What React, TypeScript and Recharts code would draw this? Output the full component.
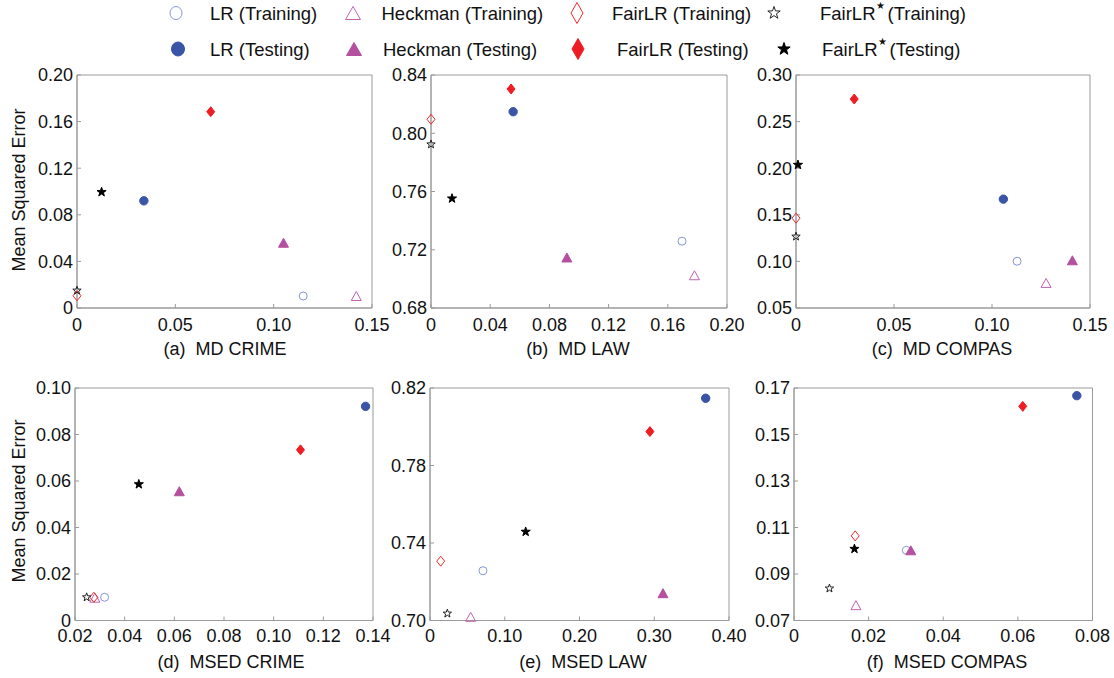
import React from 'react';
import { ScatterChart, Scatter, XAxis, YAxis, ReferenceArea } from 'recharts';

const FONT = '"Liberation Sans", Arial, Helvetica, sans-serif';
const AX = '#9a9a9a';

// Series order (same in every panel)
const seriesNames = [
  'LR (Training)', 'Heckman (Training)', 'FairLR (Training)', 'FairLR* (Training)',
  'LR (Testing)', 'Heckman (Testing)', 'FairLR (Testing)', 'FairLR* (Testing)',
];

// (a) MD CRIME
const mdCrimeX = [0.115, 0.142, 0.0, 0.0, 0.034, 0.105, 0.068, 0.0125];
const mdCrimeY = [0.0103, 0.0103, 0.0105, 0.015, 0.092, 0.056, 0.1685, 0.0995];
// (b) MD LAW
const mdLawX = [0.1696, 0.178, 0.0, 0.0, 0.0555, 0.0918, 0.0541, 0.0142];
const mdLawY = [0.7259, 0.7025, 0.8096, 0.7924, 0.8148, 0.7147, 0.8304, 0.7552];
// (c) MD COMPAS
const mdCompasX = [0.1128, 0.1276, 0.0, 0.0, 0.1058, 0.141, 0.0297, 0.001];
const mdCompasY = [0.1002, 0.0769, 0.1464, 0.1267, 0.1668, 0.1012, 0.2742, 0.2036];
// (d) MSED CRIME
const msedCrimeX = [0.0319, 0.028, 0.0276, 0.0247, 0.137, 0.062, 0.1108, 0.0457];
const msedCrimeY = [0.01, 0.0098, 0.01, 0.01, 0.0921, 0.0556, 0.0734, 0.0586];
// (e) MSED LAW
const msedLawX = [0.0709, 0.0544, 0.0143, 0.0232, 0.3688, 0.3117, 0.2942, 0.128];
const msedLawY = [0.7257, 0.7019, 0.7306, 0.7036, 0.8147, 0.7141, 0.7975, 0.7458];
// (f) MSED COMPAS
const msedCompasX = [0.0301, 0.0166, 0.0164, 0.0095, 0.0758, 0.0313, 0.0613, 0.0162];
const msedCompasY = [0.1002, 0.0766, 0.1064, 0.0838, 0.1667, 0.1002, 0.1621, 0.1008];

// Ticks
const xTicksA = [0, 0.05, 0.1, 0.15];
const yTicksA = [0, 0.04, 0.08, 0.12, 0.16, 0.2];
const xTicksB = [0, 0.04, 0.08, 0.12, 0.16, 0.2];
const yTicksB = [0.68, 0.72, 0.76, 0.8, 0.84];
const xTicksC = [0, 0.05, 0.1, 0.15];
const yTicksC = [0.05, 0.1, 0.15, 0.2, 0.25, 0.3];
const xTicksD = [0.02, 0.04, 0.06, 0.08, 0.1, 0.12, 0.14];
const yTicksD = [0, 0.02, 0.04, 0.06, 0.08, 0.1];
const xTicksE = [0, 0.1, 0.2, 0.3, 0.4];
const yTicksE = [0.7, 0.74, 0.78, 0.82];
const xTicksF = [0, 0.02, 0.04, 0.06, 0.08];
const yTicksF = [0.07, 0.09, 0.11, 0.13, 0.15, 0.17];

type Kind = 'circle' | 'triangle' | 'diamond' | 'star';
const seriesKind: Kind[] = ['circle', 'triangle', 'diamond', 'star', 'circle', 'triangle', 'diamond', 'star'];
const seriesFilled = [false, false, false, false, true, true, true, true];
const seriesColor = ['#8796d4', '#c263b1', '#f02a2a', '#222222', '#3a55a6', '#b4509f', '#ee1d23', '#000000'];

const fmt = (v: number) => (v === 0 ? '0' : v.toFixed(2));

function starPath(cx: number, cy: number, R: number, r: number) {
  let d = '';
  for (let i = 0; i < 10; i++) {
    const a = -Math.PI / 2 + (i * Math.PI) / 5;
    const rad = i % 2 === 0 ? R : r;
    d += (i === 0 ? 'M' : 'L') + (cx + rad * Math.cos(a)).toFixed(2) + ',' + (cy + rad * Math.sin(a)).toFixed(2);
  }
  return d + 'Z';
}

function Marker({ kind, filled, color, cx, cy, s }: { kind: Kind; filled: boolean; color: string; cx: number; cy: number; s: number }) {
  const fill = filled ? color : 'none';
  const common = { fill, stroke: color, strokeWidth: 1 };
  if (cx == null || cy == null) return null;
  switch (kind) {
    case 'circle':
      return <circle cx={cx} cy={cy} r={(filled ? 4.2 : 4) * s} {...common} />;
    case 'triangle': {
      const hw = 5 * s, hh = 4.5 * s;
      return <polygon points={`${cx},${cy - hh} ${cx - hw},${cy + hh} ${cx + hw},${cy + hh}`} {...common} />;
    }
    case 'diamond': {
      const hw = 4 * s, hh = 5 * s;
      return <polygon points={`${cx},${cy - hh} ${cx + hw},${cy} ${cx},${cy + hh} ${cx - hw},${cy}`} {...common} />;
    }
    case 'star': {
      const R = (filled ? 4.8 : 4.4) * s;
      return <path d={starPath(cx, cy, R, R * 0.4)} {...common} />;
    }
  }
  return null;
}

interface PanelProps {
  left: number; top: number; w: number; h: number;
  xs: number[]; ys: number[];
  xDomain: [number, number]; yDomain: [number, number];
  xTicks: number[]; yTicks: number[];
  xGap: number;
}

function Panel({ left, top, w, h, xs, ys, xDomain, yDomain, xTicks, yTicks, xGap }: PanelProps) {
  const ML = 60, MR = 30, MT = 12, MB = 36;
  const tickStyle = { fontSize: 18, fill: '#111', fontFamily: FONT };
  return (
    <div style={{ position: 'absolute', left: left - ML, top: top - MT }}>
      <ScatterChart width={w + ML + MR} height={h + MT + MB} margin={{ top: MT, right: MR, bottom: 0, left: 0 }}>
        <XAxis
          type="number" dataKey="x" domain={xDomain} ticks={xTicks} interval={0} height={MB}
          tickSize={-4} tickMargin={xGap} tickFormatter={fmt}
          axisLine={{ stroke: AX }} tickLine={{ stroke: AX }} tick={tickStyle}
        />
        <YAxis
          type="number" dataKey="y" domain={yDomain} ticks={yTicks} interval={0} width={ML}
          tickSize={-4} tickMargin={8} tickFormatter={fmt}
          axisLine={{ stroke: AX }} tickLine={{ stroke: AX }} tick={tickStyle}
        />
        <ReferenceArea x1={xDomain[0]} x2={xDomain[1]} y1={yDomain[0]} y2={yDomain[1]}
          fill="none" stroke={AX} strokeWidth={1} ifOverflow="visible" />
        {seriesNames.map((name, i) => (
          <Scatter
            key={name}
            name={name}
            data={[{ x: xs[i], y: ys[i] }]}
            isAnimationActive={false}
            shape={(p: any) => (
              <Marker kind={seriesKind[i]} filled={seriesFilled[i]} color={seriesColor[i]} cx={p.cx} cy={p.cy} s={1} />
            )}
          />
        ))}
      </ScatterChart>
    </div>
  );
}

const legendRow1 = [
  { i: 0, mx: 176, tx: 210 },
  { i: 1, mx: 353, tx: 381.5 },
  { i: 2, mx: 577, tx: 612 },
  { i: 3, mx: 774, tx: 820 },
];
const legendRow2 = [
  { i: 4, mx: 178, tx: 210 },
  { i: 5, mx: 354, tx: 383 },
  { i: 6, mx: 578, tx: 617 },
  { i: 7, mx: 784, tx: 822 },
];

function LegendItem({ i, mx, tx, y }: { i: number; mx: number; tx: number; y: number }) {
  const kind = seriesKind[i];
  const filled = seriesFilled[i];
  const color = seriesColor[i];
  let marker: React.ReactNode;
  if (kind === 'diamond') {
    const hw = 6, hh = 10.5;
    marker = <polygon points={`${mx},${y - hh} ${mx + hw},${y} ${mx},${y + hh} ${mx - hw},${y}`}
      fill={filled ? color : 'none'} stroke={color} strokeWidth={1} />;
  } else if (kind === 'triangle') {
    const hw = 7.5, hh = 6.5;
    marker = <polygon points={`${mx},${y - hh} ${mx - hw},${y + hh} ${mx + hw},${y + hh}`}
      fill={filled ? color : 'none'} stroke={color} strokeWidth={1} />;
  } else if (kind === 'circle') {
    marker = <ellipse cx={mx} cy={y} rx={filled ? 6.5 : 6} ry={filled ? 7 : 6.5} fill={filled ? color : 'none'} stroke={color} strokeWidth={1} />;
  } else {
    marker = <path d={starPath(mx, y, 6.5, 2.6)} fill={filled ? color : 'none'} stroke={color} strokeWidth={1} />;
  }
  const name = seriesNames[i];
  const isStar = name.startsWith('FairLR*');
  const rest = isStar ? name.replace('FairLR* ', '') : name;
  return (
    <g>
      {marker}
      <text x={tx} y={y} dominantBaseline="central" fontSize={18.5} fontFamily={FONT} fill="#111">
        {isStar ? (
          <>
            <tspan>FairLR</tspan>
            <tspan fontSize={10} dy={-8}>★</tspan>
            <tspan dy={8} dx={3}>{rest}</tspan>
          </>
        ) : (
          name
        )}
      </text>
    </g>
  );
}

const captions = [
  { text: '(a)  MD CRIME', x: 225, y: 349 },
  { text: '(b)  MD LAW', x: 578, y: 349 },
  { text: '(c)  MD COMPAS', x: 942, y: 349 },
  { text: '(d)  MSED CRIME', x: 231, y: 662 },
  { text: '(e)  MSED LAW', x: 583, y: 662 },
  { text: '(f)  MSED COMPAS', x: 947, y: 662 },
];

export default function App() {
  return (
    <div style={{ position: 'absolute', left: 0, top: 0, width: 1114, height: 678, background: '#fff', overflow: 'hidden' }}>
      <Panel left={77} top={75} w={295} h={233} xs={mdCrimeX} ys={mdCrimeY}
        xDomain={[0, 0.15]} yDomain={[0, 0.2]} xTicks={xTicksA} yTicks={yTicksA} xGap={14.6} />
      <Panel left={431} top={75} w={296} h={233} xs={mdLawX} ys={mdLawY}
        xDomain={[0, 0.2]} yDomain={[0.68, 0.84]} xTicks={xTicksB} yTicks={yTicksB} xGap={14.6} />
      <Panel left={796} top={75} w={294} h={233} xs={mdCompasX} ys={mdCompasY}
        xDomain={[0, 0.15]} yDomain={[0.05, 0.3]} xTicks={xTicksC} yTicks={yTicksC} xGap={14.6} />
      <Panel left={75} top={387.5} w={298} h={232.5} xs={msedCrimeX} ys={msedCrimeY}
        xDomain={[0.02, 0.14]} yDomain={[0, 0.1]} xTicks={xTicksD} yTicks={yTicksD} xGap={12.6} />
      <Panel left={429.5} top={387.5} w={299} h={232.5} xs={msedLawX} ys={msedLawY}
        xDomain={[0, 0.4]} yDomain={[0.7, 0.82]} xTicks={xTicksE} yTicks={yTicksE} xGap={12.6} />
      <Panel left={794} top={387.5} w={298.5} h={232.5} xs={msedCompasX} ys={msedCompasY}
        xDomain={[0, 0.08]} yDomain={[0.07, 0.17]} xTicks={xTicksF} yTicks={yTicksF} xGap={12.6} />

      <svg width={1114} height={678} style={{ position: 'absolute', left: 0, top: 0, pointerEvents: 'none' }}>
        {legendRow1.map((it) => <LegendItem key={it.i} {...it} y={13} />)}
        {legendRow2.map((it) => <LegendItem key={it.i} {...it} y={49} />)}
        {captions.map((c) => (
          <text key={c.text} x={c.x} y={c.y} textAnchor="middle" dominantBaseline="central"
            fontSize={18} fontFamily={FONT} fill="#111" style={{ whiteSpace: 'pre' }}>{c.text}</text>
        ))}
        <text transform="translate(19,190) rotate(-90)" textAnchor="middle" dominantBaseline="central"
          fontSize={18} fontFamily={FONT} fill="#111">Mean Squared Error</text>
        <text transform="translate(19,501) rotate(-90)" textAnchor="middle" dominantBaseline="central"
          fontSize={18} fontFamily={FONT} fill="#111">Mean Squared Error</text>
      </svg>
    </div>
  );
}
